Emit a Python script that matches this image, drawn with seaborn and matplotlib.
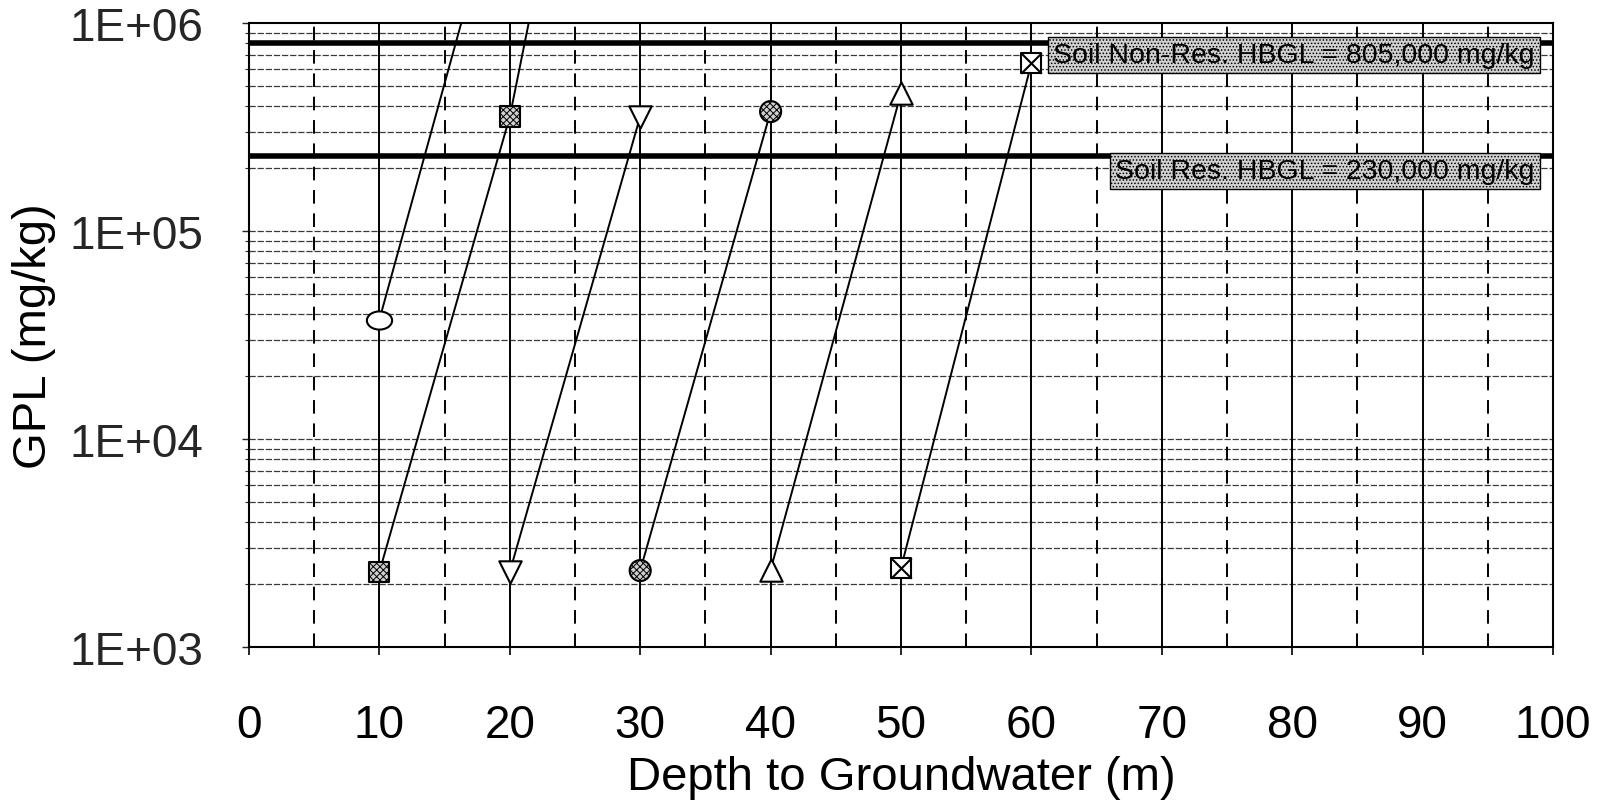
import numpy as np
import pandas as pd
import matplotlib
matplotlib.use("Agg")
import matplotlib.pyplot as plt
from matplotlib.path import Path
from matplotlib.transforms import Affine2D
from matplotlib.ticker import FixedLocator, NullFormatter
import seaborn as sns

# GPL (mg/kg) against depth to groundwater (m), one curve per source case
open_circle_depth = [10, 20]
open_circle_gpl = [3.75e4, 7.0e6]

square_depth = [10, 20, 30]
square_gpl = [2.3e3, 3.55e5, 4.5e8]

tri_down_depth = [20, 30]
tri_down_gpl = [2.3e3, 3.55e5]

dot_circle_depth = [30, 40]
dot_circle_gpl = [2.33e3, 3.75e5]

tri_up_depth = [40, 50]
tri_up_gpl = [2.35e3, 4.6e5]

box_x_depth = [50, 60]
box_x_gpl = [2.4e3, 6.4e5]

# Health-based guidance levels
hbgl_values = [805000, 230000]
hbgl_labels = ["Soil Non-Res. HBGL = 805,000 mg/kg",
               "Soil Res. HBGL = 230,000 mg/kg"]
hbgl_label_y = [7.0e5, 1.95e5]

x_ticks = [0, 10, 20, 30, 40, 50, 60, 70, 80, 90, 100]
x_minor = [5, 15, 25, 35, 45, 55, 65, 75, 85, 95]
y_ticks = [1e3, 1e4, 1e5, 1e6]
y_tick_labels = ["1E+03", "1E+04", "1E+05", "1E+06"]

sns.set_theme(style="white")
plt.rcParams["font.family"] = ["Liberation Sans", "DejaVu Sans"]
plt.rcParams["hatch.linewidth"] = 0.7

fig = plt.figure(figsize=(15.99, 8.04), dpi=100)
ax = fig.add_axes([249 / 1599, 1 - 648 / 804, (1553 - 249) / 1599, (648 - 24) / 804])
ax.set_yscale("log")
ax.set_xlim(0, 100)
ax.set_ylim(1e3, 1e6)

# grid: solid verticals every 10 m, dashed at the 5 m marks, fine dashed horizontals
minor_y = [m * 10 ** e for e in range(3, 6) for m in range(2, 10)]
for yv in minor_y + y_ticks[1:-1]:
    ax.axhline(yv, color="#3a3a3a", lw=0.9, ls=(0, (5, 1.5)), zorder=1)
for xv in x_ticks[1:-1]:
    ax.axvline(xv, color="black", lw=1.4, zorder=1)
for xv in x_minor:
    ax.axvline(xv, color="black", lw=1.4, ls=(0, (7, 5)), zorder=1)

# guidance levels
for val in hbgl_values:
    ax.axhline(val, color="black", lw=4.0, zorder=2)

curves = [
    (open_circle_depth, open_circle_gpl),
    (square_depth, square_gpl),
    (tri_down_depth, tri_down_gpl),
    (dot_circle_depth, dot_circle_gpl),
    (tri_up_depth, tri_up_gpl),
    (box_x_depth, box_x_gpl),
]
for depth, gpl in curves:
    df = pd.DataFrame({"depth": depth, "gpl": gpl})
    sns.lineplot(data=df, x="depth", y="gpl", color="black", lw=1.4,
                 estimator=None, sort=False, ax=ax, zorder=3)

ellipse = Path.unit_circle().transformed(Affine2D().scale(1.0, 0.72))

def markers(depth, gpl, marker, size, hatch=None, face="white", edge="black"):
    sns.scatterplot(x=depth, y=gpl, marker=marker, s=size, facecolor=face,
                    edgecolor=edge, linewidth=1.5, hatch=hatch, ax=ax,
                    zorder=4, clip_on=False, legend=False)

markers(open_circle_depth[:1], open_circle_gpl[:1], ellipse, 330)
markers(square_depth[:2], square_gpl[:2], "s", 210, hatch="xxxxx", face="#cfcfcf")
markers(tri_down_depth, tri_down_gpl, "v", 260)
markers(dot_circle_depth, dot_circle_gpl, "o", 230, hatch="xxxxx", face="#cfcfcf")
markers(tri_up_depth, tri_up_gpl, "^", 260)
markers(box_x_depth, box_x_gpl, "s", 220)
markers(box_x_depth, box_x_gpl, "x", 220, face="black")

for label, yv in zip(hbgl_labels, hbgl_label_y):
    ax.text(98.6, yv, label, ha="right", va="center", fontsize=20.5, color="black",
            zorder=5,
            bbox=dict(boxstyle="square,pad=0.18", facecolor="#d2d2d2",
                      edgecolor="black", linewidth=1.0, hatch="....."))

ax.xaxis.set_major_locator(FixedLocator(x_ticks))
ax.set_xticklabels([str(v) for v in x_ticks])
ax.yaxis.set_major_locator(FixedLocator(y_ticks))
ax.set_yticklabels(y_tick_labels)
ax.yaxis.set_minor_locator(FixedLocator(minor_y))
ax.yaxis.set_minor_formatter(NullFormatter())

ax.tick_params(axis="x", which="both", length=6, width=1.2, direction="out",
               pad=34, labelsize=33, colors="black", bottom=True)
ax.tick_params(axis="y", which="major", length=5, width=1.0, direction="out",
               pad=28, labelsize=33, left=True)
ax.tick_params(axis="y", which="minor", length=3, width=0.8, direction="out", left=True)

for sp in ax.spines.values():
    sp.set_color("black")
    sp.set_linewidth(1.5)
    sp.set_visible(True)

ax.set_xlabel("Depth to Groundwater (m)", fontsize=34, labelpad=6, color="black")
ax.set_ylabel("GPL (mg/kg)", fontsize=34, color="black")
ax.yaxis.set_label_coords(-0.148, 0.5)
ax.grid(False)

fig.savefig("out.png", dpi=100, facecolor="white")
